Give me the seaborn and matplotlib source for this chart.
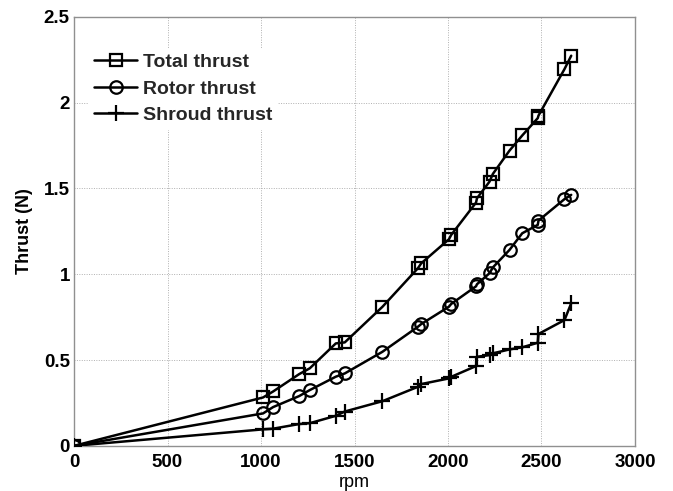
import matplotlib
matplotlib.use("Agg")
import matplotlib.pyplot as plt
import seaborn as sns
import pandas as pd

# Measured thrust versus rotor speed
rpm = [0, 1011, 1065, 1204, 1261, 1400, 1448, 1649, 1839, 1857, 2005, 2017,
       2150, 2155, 2222, 2240, 2329, 2397, 2480, 2484, 2623, 2659]
total_thrust = [0, 0.282, 0.317, 0.418, 0.452, 0.597, 0.603, 0.81, 1.035, 1.064,
                1.204, 1.229, 1.418, 1.443, 1.54, 1.585, 1.721, 1.809, 1.91, 1.925,
                2.196, 2.274]
rotor_thrust = [0, 0.189, 0.226, 0.29, 0.325, 0.403, 0.422, 0.548, 0.694, 0.71,
                0.811, 0.827, 0.93, 0.942, 1.006, 1.04, 1.142, 1.239, 1.288, 1.313,
                1.438, 1.463]
shroud_thrust = [0, 0.096, 0.1, 0.127, 0.132, 0.175, 0.2, 0.26, 0.344, 0.36,
                 0.393, 0.402, 0.465, 0.519, 0.529, 0.539, 0.562, 0.574, 0.601, 0.652,
                 0.733, 0.831]

series_names = ["Total thrust", "Rotor thrust", "Shroud thrust"]
series_values = [total_thrust, rotor_thrust, shroud_thrust]
series_markers = ["s", "o", "+"]
series_sizes = [8, 9, 11]

x_ticks = [0, 500, 1000, 1500, 2000, 2500, 3000]
y_ticks = [0, 0.5, 1, 1.5, 2, 2.5]
y_tick_labels = ["0", "0.5", "1", "1.5", "2", "2.5"]

sns.set_theme(style="white")
plt.rcParams["font.family"] = ["Liberation Sans", "DejaVu Sans"]

fig = plt.figure(figsize=(6.73, 4.91), dpi=100)
ax = fig.add_axes([0.110, 0.092, 0.8335, 0.8735])

for name, vals, mk, ms in zip(series_names, series_values, series_markers, series_sizes):
    df = pd.DataFrame({"rpm": rpm, "thrust": vals})
    sns.lineplot(data=df, x="rpm", y="thrust", ax=ax, sort=False, estimator=None,
                 color="black", linewidth=1.8, marker=mk, markersize=ms,
                 markerfacecolor="none", markeredgecolor="black",
                 markeredgewidth=1.6, label=name, zorder=3)

ax.set_xlim(0, 3000)
ax.set_ylim(0, 2.5)
ax.set_xticks(x_ticks)
ax.set_yticks(y_ticks)
ax.set_yticklabels(y_tick_labels)
ax.grid(True, color="#b0b0b0", linestyle=(0, (1, 1.5)), linewidth=0.7)
ax.set_axisbelow(True)
for sp in ax.spines.values():
    sp.set_color("#909090")
    sp.set_linewidth(1.0)
ax.tick_params(axis="both", length=0, labelsize=13.5, colors="black")
ax.tick_params(axis="x", pad=6)
ax.tick_params(axis="y", pad=3)
for lab in ax.get_xticklabels() + ax.get_yticklabels():
    lab.set_fontweight("bold")

ax.set_xlabel("rpm", fontsize=13, labelpad=2, color="black")
ax.set_ylabel("Thrust (N)", fontsize=13, fontweight="bold", labelpad=8, color="black")

leg = ax.legend(loc="upper left", bbox_to_anchor=(0.026, 0.928), borderaxespad=0,
                frameon=True, framealpha=1, edgecolor="white", fancybox=False,
                prop={"weight": "bold", "size": 14}, handlelength=2.2,
                handletextpad=0.3, labelspacing=0.45, borderpad=0.3)
leg.get_frame().set_linewidth(0)

fig.savefig("out.png", dpi=100)
